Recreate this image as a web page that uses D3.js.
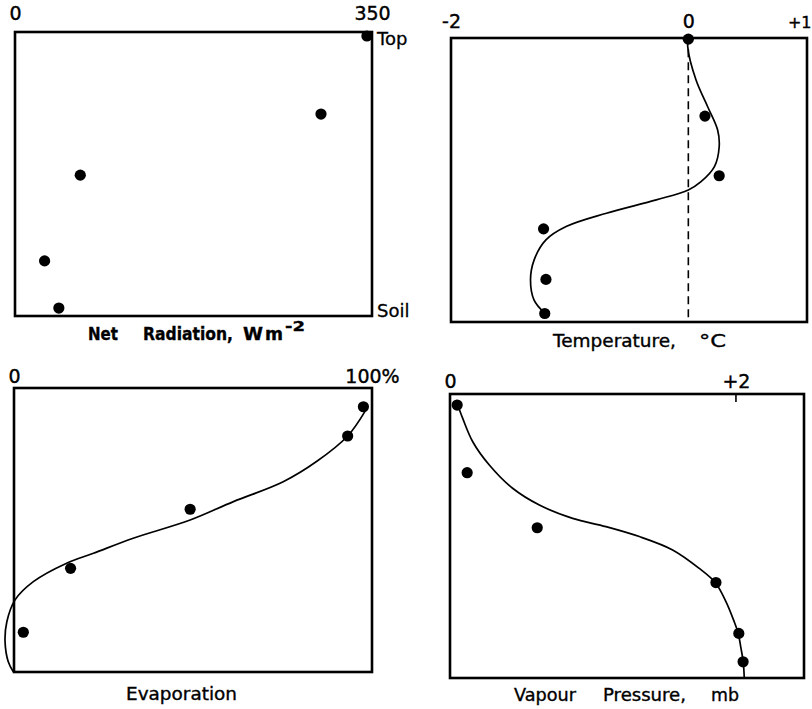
<!DOCTYPE html>
<html>
<head>
<meta charset="utf-8">
<script src="https://cdn.jsdelivr.net/npm/d3@7"></script>
<style>
  html, body { margin: 0; padding: 0; background: #fff; }
  svg { display: block; }
  text { font-family: "DejaVu Sans", sans-serif; fill: #000; }
</style>
</head>
<body>
<svg id="chart" width="812" height="709"></svg>
<script>
// Relative height in the canopy: 0 = soil, 1 = top of canopy.

// Net radiation profile (W m-2)
const radiationHeight = [0.986, 0.711, 0.496, 0.194, 0.028];
const radiationValue  = [345, 300, 64, 29, 43];
const radiationTicks  = [0, 350];
const radiationTickLabels = ["0", "350"];

// Temperature departure profile (°C)
const temperatureHeight = [0.996, 0.725, 0.515, 0.328, 0.150, 0.030];
const temperatureValue  = [0, 0.14, 0.26, -1.22, -1.20, -1.21];
const temperatureCurveValue  = [0, -0.005, 0.065, 0.163, 0.247, 0.26, 0.22, 0.107, 0, -0.27, -0.69, -1.03, -1.20, -1.30, -1.33, -1.30, -1.21];
const temperatureCurveHeight = [0.996, 0.969, 0.852, 0.758, 0.676, 0.617, 0.547, 0.494, 0.465, 0.430, 0.383, 0.336, 0.289, 0.218, 0.148, 0.077, 0.031];
const temperatureTicks = [-2, 0, 1];
const temperatureTickLabels = ["-2", "0", "+1"];

// Cumulative evaporation (%)
const evaporationHeight = [0.934, 0.831, 0.573, 0.365, 0.140];
const evaporationValue  = [97.6, 93.2, 49.2, 15.8, 2.6];
const evaporationCurveValue  = [98.3, 93.2, 84.5, 75.2, 61.3, 49.2, 33.3, 22.2, 14.7, 5.4, 0.3, -2.0, -2.5, -1.6, -0.2];
const evaporationCurveHeight = [0.923, 0.831, 0.741, 0.670, 0.600, 0.535, 0.471, 0.418, 0.383, 0.318, 0.254, 0.177, 0.107, 0.036, 0.001];
const evaporationTicks = [0, 100];
const evaporationTickLabels = ["0", "100%"];

// Vapour pressure excess (mb)
const vapourHeight = [0.961, 0.723, 0.529, 0.336, 0.157, 0.057];
const vapourValue  = [0.05, 0.12, 0.61, 1.86, 2.02, 2.05];
const vapourCurveValue  = [0.042, 0.089, 0.159, 0.275, 0.438, 0.625, 0.858, 1.091, 1.324, 1.557, 1.743, 1.855, 1.930, 1.988, 2.016, 2.035, 2.051, 2.058];
const vapourCurveHeight = [0.979, 0.914, 0.832, 0.750, 0.668, 0.609, 0.562, 0.533, 0.498, 0.451, 0.386, 0.336, 0.269, 0.198, 0.157, 0.105, 0.057, 0.001];
const vapourTicks = [0, 2];
const vapourTickLabels = ["0", "+2"];

const svg = d3.select("#chart");

const panels = [
  { box: [15, 32, 372, 316], domain: [0, 350], ticks: radiationTicks, labels: radiationTickLabels,
    labelGap: 12, h: radiationHeight, v: radiationValue },
  { box: [451, 38, 807, 322], domain: [-2, 1], ticks: temperatureTicks, labels: temperatureTickLabels,
    labelGap: 10, h: temperatureHeight, v: temperatureValue,
    ch: temperatureCurveHeight, cv: temperatureCurveValue, zeroLine: true, lastEnd: true },
  { box: [14, 388, 372, 672], domain: [0, 100], ticks: evaporationTicks, labels: evaporationTickLabels,
    labelGap: 5, h: evaporationHeight, v: evaporationValue,
    ch: evaporationCurveHeight, cv: evaporationCurveValue },
  { box: [450, 394, 804, 678], domain: [0, 2.476], ticks: vapourTicks, labels: vapourTickLabels,
    labelGap: 6, h: vapourHeight, v: vapourValue,
    ch: vapourCurveHeight, cv: vapourCurveValue, innerTick: 2 }
];

panels.forEach(p => {
  const [x0, y0, x1, y1] = p.box;
  const x = d3.scaleLinear().domain(p.domain).range([x0, x1]);
  const y = d3.scaleLinear().domain([0, 1]).range([y1, y0]);
  const g = svg.append("g");

  // tick labels above the frame
  const axis = g.append("g")
    .attr("transform", `translate(0,${y0 - p.labelGap})`)
    .call(d3.axisTop(x).tickValues(p.ticks).tickFormat((d, i) => p.labels[i]).tickSize(0).tickPadding(0));
  axis.select(".domain").remove();
  axis.selectAll("text")
    .style("font-family", "'DejaVu Sans', sans-serif")
    .style("font-size", "19px")
    .style("stroke", "#000").style("stroke-width", 0.4)
    .attr("fill", "#000")
    .attr("dy", 0);
  if (p.lastEnd) {
    axis.selectAll(".tick:last-of-type text")
      .attr("text-anchor", "end").attr("dx", 4)
      .style("font-size", "16px");
  }

  if (p.zeroLine) {
    g.append("line")
      .attr("x1", x(0)).attr("x2", x(0))
      .attr("y1", y(0.96)).attr("y2", y(0))
      .attr("stroke", "#000").attr("stroke-width", 1.6)
      .attr("stroke-dasharray", "8,5");
  }

  if (p.innerTick !== undefined) {
    g.append("line")
      .attr("x1", x(p.innerTick)).attr("x2", x(p.innerTick))
      .attr("y1", y0).attr("y2", y0 + 8)
      .attr("stroke", "#000").attr("stroke-width", 1.6);
  }

  // frame
  g.append("rect")
    .attr("x", x0).attr("y", y0)
    .attr("width", x1 - x0).attr("height", y1 - y0)
    .attr("fill", "none").attr("stroke", "#000").attr("stroke-width", 2.6);

  // fitted curve
  if (p.cv) {
    const pts = p.cv.map((v, i) => [v, p.ch[i]]);
    g.append("path")
      .datum(pts)
      .attr("d", d3.line().x(d => x(d[0])).y(d => y(d[1])).curve(d3.curveCatmullRom.alpha(0.5)))
      .attr("fill", "none").attr("stroke", "#000").attr("stroke-width", 1.7);
  }

  // observations
  g.selectAll("circle.obs")
    .data(p.v.map((v, i) => [v, p.h[i]]))
    .join("circle")
    .attr("class", "obs")
    .attr("cx", d => x(d[0])).attr("cy", d => y(d[1]))
    .attr("r", 5.6).attr("fill", "#000");
});

// side labels for the radiation panel
svg.append("text").attr("x", 377).attr("y", 45).style("font-size", "18px")
  .style("stroke", "#000").style("stroke-width", 0.3).text("Top");
svg.append("text").attr("x", 377).attr("y", 317).style("font-size", "18px")
  .style("stroke", "#000").style("stroke-width", 0.3).text("Soil");

// axis titles
function word(x, y, txt, len, size, weight) {
  return svg.append("text").attr("x", x).attr("y", y)
    .attr("textLength", len).attr("lengthAdjust", "spacingAndGlyphs")
    .style("font-size", size + "px").style("font-weight", weight || "normal")
    .style("stroke", "#000").style("stroke-width", 0.35)
    .text(txt);
}
word(88, 340, "Net", 30, 17, "bold");
word(143, 340, "Radiation,", 90, 17, "bold");
word(243, 340, "W", 20, 17, "bold");
word(265, 340, "m", 18, 17, "bold");
word(285, 331, "-2", 20, 14, "bold");

word(553, 347, "Temperature,", 123, 17);
word(699, 347, "°C", 27, 17);

word(126, 700, "Evaporation", 111, 17);

word(514, 701, "Vapour", 62, 17);
word(603, 701, "Pressure,", 83, 17);
word(711, 701, "mb", 28, 17);
</script>
</body>
</html>
